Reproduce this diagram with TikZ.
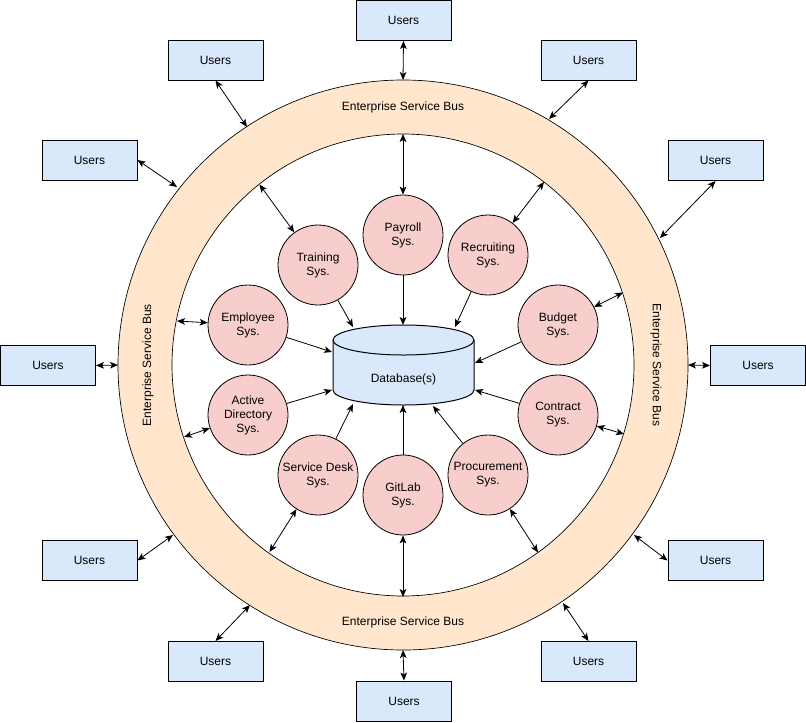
\documentclass[tikz,border=0pt]{standalone}
\usepackage{fontspec}
\setmainfont{Liberation Sans}
\usetikzlibrary{arrows.meta}
\definecolor{busfill}{HTML}{FFE6CC}
\definecolor{userfill}{HTML}{DAE8FC}
\definecolor{sysfill}{HTML}{F8CECC}
\definecolor{dbfill}{HTML}{DAE8FC}
\tikzset{
  users/.style={draw=black, fill=userfill, line width=0.75pt, minimum width=71.25pt, minimum height=30pt, inner sep=0pt, font=\fontsize{9}{10.5}\selectfont},
  sys/.style={circle, draw=black, fill=sysfill, line width=0.6pt, minimum size=60pt, inner sep=0pt, align=center, font=\fontsize{9}{10.5}\selectfont},
  conn/.style={line width=0.6pt, {Stealth[length=6pt,width=5pt,inset=1.5pt]}-{Stealth[length=6pt,width=5pt,inset=1.5pt]}},
  toDb/.style={line width=0.6pt, -{Stealth[length=6pt,width=5pt,inset=1.5pt]}},
  buslabel/.style={font=\fontsize{9}{10.5}\selectfont, inner sep=0pt}
}
\begin{document}
\begin{tikzpicture}[x=0.75pt,y=-0.75pt]
\useasboundingbox (0,0) rectangle (806,722);
% ring
\coordinate (c) at (403,365);
\fill[busfill, even odd rule] (c) circle (213.75pt) (c) circle (173.25pt);
\draw[line width=0.5pt] (c) circle (213.75pt);
\draw[line width=0.5pt] (c) circle (173.25pt);
\node[buslabel] (busT) at (403,107) {Enterprise Service Bus};
\node[buslabel] (busB) at (403,622) {Enterprise Service Bus};
\node[buslabel, rotate=90] (busL) at (148,365) {Enterprise Service Bus};
\node[buslabel, rotate=-90] (busR) at (656,365) {Enterprise Service Bus};

% database cylinder
\fill[dbfill] (333,340) -- (333,390) arc[start angle=180, end angle=360, x radius=52.875pt, y radius=11.25pt] -- (474,340) arc[start angle=0, end angle=180, x radius=52.875pt, y radius=11.25pt] -- cycle;
\draw[line width=0.75pt] (333,340) -- (333,390) arc[start angle=180, end angle=360, x radius=52.875pt, y radius=11.25pt] -- (474,340);
\draw[line width=0.75pt] (403.5,340) ellipse [x radius=52.875pt, y radius=11.25pt];
\node[font=\fontsize{9}{10.5}\selectfont, inner sep=0pt] (db) at (403.5,379) {Database(s)};

% users boxes
\node[users] (uT)  at (403.5,20.5) {Users};
\node[users] (uUL) at (215.5,60) {Users};
\node[users] (uLU) at (89.5,160) {Users};
\node[users] (uL)  at (48,365.5) {Users};
\node[users] (uLL) at (89.5,560.5) {Users};
\node[users] (uBL) at (215.5,661.5) {Users};
\node[users] (uB)  at (404,701) {Users};
\node[users] (uBR) at (588.5,661.5) {Users};
\node[users] (uLR) at (715.5,560.5) {Users};
\node[users] (uR)  at (758,365.5) {Users};
\node[users] (uRU) at (715.5,160.5) {Users};
\node[users] (uUR) at (588.5,60) {Users};

% outer ring points
\coordinate (oT)  at (403,80);
\coordinate (oUL) at (247,127);
\coordinate (oLU) at (177,187);
\coordinate (oL)  at (118,365);
\coordinate (oLL) at (173,535);
\coordinate (oBL) at (250,605);
\coordinate (oB)  at (403,650);
\coordinate (oBR) at (563,603);
\coordinate (oLR) at (634,535);
\coordinate (oR)  at (688,365);
\coordinate (oRU) at (660,238);
\coordinate (oUR) at (549,119);

\draw[conn] (uT.south) -- (oT);
\draw[conn] (uUL.south) -- (oUL);
\draw[conn] (uLU.east) -- (oLU);
\draw[conn] (uL.east) -- (oL);
\draw[conn] (uLL.east) -- (oLL);
\draw[conn] (uBL.north) -- (oBL);
\draw[conn] (uB.north) -- (oB);
\draw[conn] (uBR.north) -- (oBR);
\draw[conn] (uLR.west) -- (oLR);
\draw[conn] (uR.west) -- (oR);
\draw[conn] (uRU.south) -- (oRU);
\draw[conn] (uUR.south) -- (oUR);

% systems
\node[sys] (pay) at (403,235) {Payroll\\Sys.};
\node[sys] (tra) at (318,265) {Training\\Sys.};
\node[sys] (rec) at (488,255) {Recruiting\\Sys.};
\node[sys] (emp) at (248,325) {Employee\\Sys.};
\node[sys] (bud) at (558,325) {Budget\\Sys.};
\node[sys] (ad)  at (248,415) {Active\\Directory\\Sys.};
\node[sys] (con) at (558,415) {Contract\\Sys.};
\node[sys] (sd)  at (318,475) {Service Desk\\Sys.};
\node[sys] (git) at (403,495) {GitLab\\Sys.};
\node[sys] (pro) at (488,475) {Procurement\\Sys.};

% inner ring points
\coordinate (iPay) at (403,134);
\coordinate (iTra) at (259.5,184.5);
\coordinate (iRec) at (544,182);
\coordinate (iEmp) at (177,321);
\coordinate (iBud) at (623,292.5);
\coordinate (iAd)  at (184,437);
\coordinate (iCon) at (624,434);
\coordinate (iSd)  at (269.5,552);
\coordinate (iGit) at (403,597);
\coordinate (iPro) at (538,552.5);

\draw[conn] (pay) -- (iPay);
\draw[conn] (tra) -- (iTra);
\draw[conn] (rec) -- (iRec);
\draw[conn] (emp) -- (iEmp);
\draw[conn] (bud) -- (iBud);
\draw[conn] (ad) -- (iAd);
\draw[conn] (con) -- (iCon);
\draw[conn] (sd) -- (iSd);
\draw[conn] (git) -- (iGit);
\draw[conn] (pro) -- (iPro);

% database points
\coordinate (dPay) at (403,325);
\coordinate (dTra) at (353,327);
\coordinate (dRec) at (455,327);
\coordinate (dEmp) at (332,352);
\coordinate (dBud) at (475,363);
\coordinate (dAd)  at (332,390);
\coordinate (dCon) at (475,390);
\coordinate (dSd)  at (353,404);
\coordinate (dGit) at (403,405);
\coordinate (dPro) at (433,406);

\draw[toDb] (pay) -- (dPay);
\draw[toDb] (tra) -- (dTra);
\draw[toDb] (rec) -- (dRec);
\draw[toDb] (emp) -- (dEmp);
\draw[toDb] (bud) -- (dBud);
\draw[toDb] (ad) -- (dAd);
\draw[toDb] (con) -- (dCon);
\draw[toDb] (sd) -- (dSd);
\draw[toDb] (git) -- (dGit);
\draw[toDb] (pro) -- (dPro);
\end{tikzpicture}
\end{document}
